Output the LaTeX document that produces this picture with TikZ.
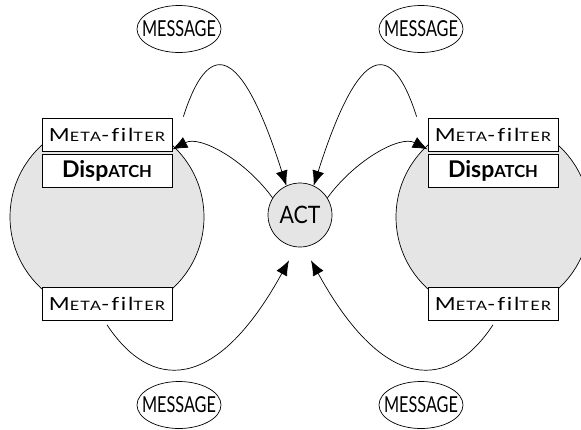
\documentclass[tikz,border=0pt]{standalone}
\usepackage{fontspec}
\setmainfont{Lato}[Ligatures=NoCommon]
\usepackage{graphicx}
\usepackage{tikz}
\usetikzlibrary{shapes.geometric, arrows.meta}
\definecolor{bodygray}{gray}{0.9}
\newcommand{\lowcap}[1]{\scalebox{0.72}{#1}}
\newcommand{\stretchx}[1]{\scalebox{1.25}[1]{#1}}
\newcommand{\squeezex}[1]{\scalebox{0.74}[1]{#1}}

\begin{document}
\begin{tikzpicture}[x=1pt, y=-1pt, line width=0.7pt,
  filterbox/.style={draw, fill=white, minimum width=130pt, minimum height=33pt, inner sep=0pt, font=\fontsize{18}{20}\selectfont\addfontfeatures{LetterSpace=8}},
  dispbox/.style={filterbox, font=\fontsize{23}{25}\selectfont\bfseries},
  msg/.style={draw, ellipse, minimum width=84pt, minimum height=47pt, inner xsep=-8pt, inner ysep=0pt, font=\fontsize{22}{24}\selectfont},
  arr/.style={-{Latex[length=15pt,width=12pt]}}]
\useasboundingbox (0,0) rectangle (581,429);
\draw[fill=bodygray] (107,217) circle (97);
\draw[fill=bodygray] (493,217) circle (97);
\node[filterbox] (mf1) at (107,134.5) {\stretchx{M\lowcap{ETA}-fil\lowcap{TER}}};
\node[dispbox] (disp1) at (107,170.5) {Disp\lowcap{ATCH}};
\node[filterbox] (mfb1) at (107,304) {\stretchx{M\lowcap{ETA}-fil\lowcap{TER}}};
\node[filterbox] (mf2) at (493,134.5) {\stretchx{M\lowcap{ETA}-fil\lowcap{TER}}};
\node[dispbox] (disp2) at (493,170.5) {Disp\lowcap{ATCH}};
\node[filterbox] (mfb2) at (493,304) {\stretchx{M\lowcap{ETA}-fil\lowcap{TER}}};
\node[draw, circle, fill=bodygray, minimum size=64pt, inner sep=0pt, font=\fontsize{24}{26}\selectfont] (act) at (300,215) {\squeezex{\scalebox{1.2}[1]{ACT}}};
\node[msg] (msg1) at (179,29) {\squeezex{MESSAGE}};
\node[msg] (msg2) at (421,29) {\squeezex{MESSAGE}};
\node[msg] (msg3) at (179,405) {\squeezex{MESSAGE}};
\node[msg] (msg4) at (421,405) {\squeezex{MESSAGE}};
\draw[arr] ([shift={(11,-1)}]mf1.north east) .. controls (208,40) and (240,40) .. (act.115);
\draw[arr] (act.148) .. controls (245,160) and (200,135) .. ([yshift=2pt]mf1.south east);
\draw[arr] ([shift={(-11,-1)}]mf2.north west) .. controls (392,40) and (360,40) .. (act.65);
\draw[arr] (act.32) .. controls (355,160) and (400,135) .. ([yshift=2pt]mf2.south west);
\draw[arr] ([yshift=-4pt]mfb1.south) .. controls (150,390) and (215,395) .. ([shift={(-11,13)}]act.south);
\draw[arr] ([yshift=-4pt]mfb2.south) .. controls (450,390) and (385,395) .. ([shift={(11,13)}]act.south);
\end{tikzpicture}
\end{document}
